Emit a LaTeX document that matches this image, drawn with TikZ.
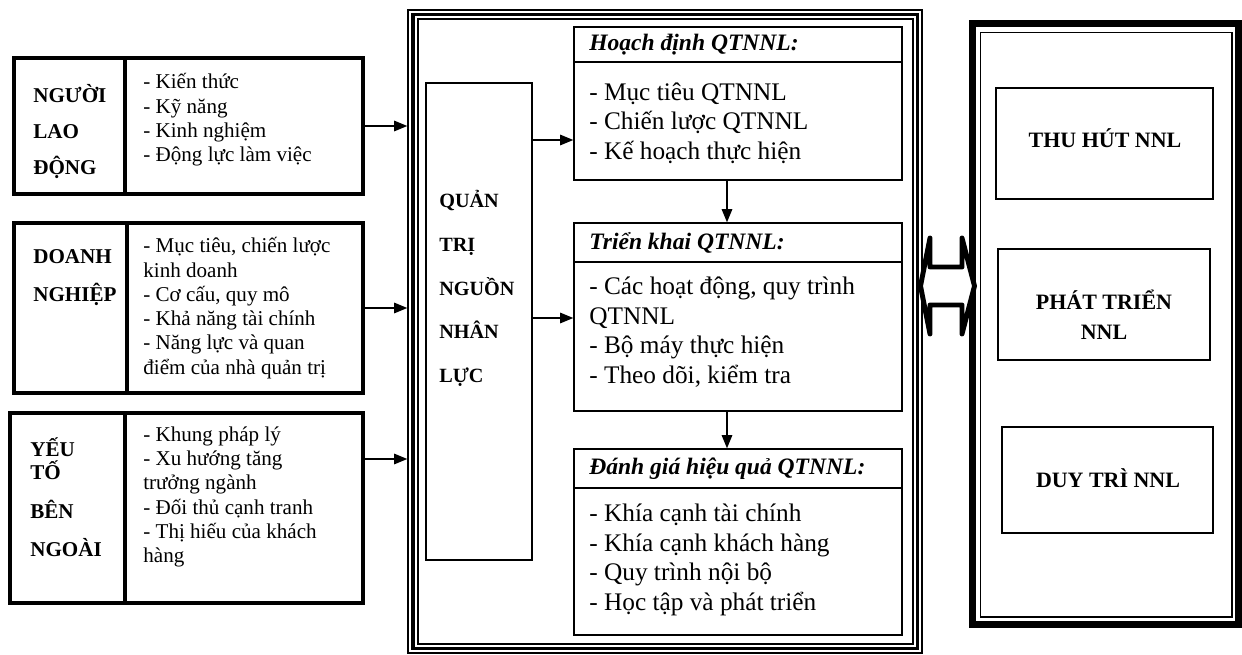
\documentclass[tikz,border=0pt]{standalone}
\usepackage{fontspec}
\setmainfont{Liberation Serif}
\usetikzlibrary{arrows.meta,fit}

\tikzset{
  factor/.style={draw, line width=2.3pt, inner sep=0pt},
  stage/.style={draw, line width=0.8pt, inner sep=0pt},
  goal/.style={draw, line width=0.9pt, inner sep=0pt},
  tag/.style={inner sep=0pt, anchor=west, align=left, font=\bfseries\fontsize{12}{20.7}\selectfont},
  item/.style={inner sep=0pt, anchor=west, align=left, font=\fontsize{12}{13.8}\selectfont},
  phase/.style={inner sep=0pt, anchor=west, font=\bfseries\itshape\fontsize{13.4}{16}\selectfont},
  point/.style={inner sep=0pt, anchor=west, align=left, font=\fontsize{14.4}{16.9}\selectfont},
  goaltext/.style={inner sep=0pt, align=center, font=\bfseries\fontsize{12.5}{17}\selectfont},
  link/.style={->, line width=0.8pt}
}

\begin{document}
\begin{tikzpicture}[x=0.02cm, y=-0.02cm, >={Triangle[length=7.5pt,width=6pt]}]
  \useasboundingbox (0,0) rectangle (1242,655);

  % Khung quan tri NNL (ba net)
  \node[stage, fit={(408,10) (922,653)}] (core) {};
  \draw[line width=2.2pt] (413,14.5) rectangle (917.5,648.5);
  \draw[line width=0.8pt] (418,19) rectangle (913,644);

  % Cac yeu to anh huong
  \node[factor, fit={(14,58) (363,194)}] (worker) {};
  \draw[line width=2.3pt] (125,58) -- (125,194);
  \node[tag] (worker-t) at (33,131.5) {NGƯỜI\\LAO\\ĐỘNG};
  \node[item] (worker-l) at (143,120) {- Kiến thức\\- Kỹ năng\\- Kinh nghiệm\\- Động lực làm việc};

  \node[factor, fit={(14,223) (363,393)}] (firm) {};
  \draw[line width=2.3pt] (127,223) -- (127,393);
  \node[tag, font=\bfseries\fontsize{12}{22}\selectfont] (firm-t) at (33,277.5) {DOANH\\NGHIỆP};
  \node[item] (firm-l) at (143,308) {- Mục tiêu, chiến lược\\kinh doanh\\- Cơ cấu, quy mô\\- Khả năng tài chính\\- Năng lực và quan\\điểm của nhà quản trị};

  \node[factor, fit={(10,413) (363,603)}] (outside) {};
  \draw[line width=2.3pt] (125,413) -- (125,603);
  \node[tag, font=\bfseries\fontsize{12}{13}\selectfont] (outside-t) at (30,497) {YẾU\\TỐ\\[9.5pt]BÊN\\[8.5pt]NGOÀI};
  \node[item] (outside-l) at (143,497) {- Khung pháp lý\\- Xu hướng tăng\\trưởng ngành\\- Đối thủ cạnh tranh\\- Thị hiếu của khách\\hàng};

  \draw[link] (worker.east) -- (worker.east -| core.west);
  \draw[link] (firm.east) -- (firm.east -| core.west);
  \draw[link] (outside.east |- 0,459) -- (core.west |- 0,459);

  % Quan tri nguon nhan luc
  \node[stage, line width=0.7pt, fit={(426,83) (532,560)}] (hrm) {};
  \node[tag, font=\bfseries\fontsize{11.5}{24.8}\selectfont] (hrm-t) at (439,288.5) {QUẢN\\TRỊ\\NGUỒN\\NHÂN\\LỰC};

  % Hoach dinh
  \node[stage, fit={(574,27) (902,180)}] (plan) {};
  \draw[line width=0.8pt] (574,62) -- (902,62);
  \node[phase] (plan-t) at (589,45) {Hoạch định QTNNL:};
  \node[point] (plan-l) at (589,123) {- Mục tiêu QTNNL\\- Chiến lược QTNNL\\- Kế hoạch thực hiện};

  % Trien khai
  \node[stage, fit={(574,223) (902,411)}] (run) {};
  \draw[line width=0.8pt] (574,262) -- (902,262);
  \node[phase] (run-t) at (589,243) {Triển khai QTNNL:};
  \node[point] (run-l) at (589,332) {- Các hoạt động, quy trình\\QTNNL\\- Bộ máy thực hiện\\- Theo dõi, kiểm tra};

  % Danh gia
  \node[stage, fit={(574,449) (902,635)}] (eval) {};
  \draw[line width=0.8pt] (574,488) -- (902,488);
  \node[phase] (eval-t) at (589,469) {Đánh giá hiệu quả QTNNL:};
  \node[point] (eval-l) at (589,560) {- Khía cạnh tài chính\\- Khía cạnh khách hàng\\- Quy trình nội bộ\\- Học tập và phát triển};

  \draw[link] (hrm.east |- 0,140) -- (plan.west |- 0,140);
  \draw[link] (hrm.east |- 0,318) -- (run.west |- 0,318);
  \draw[link] (plan.south -| 727,0) -- (run.north -| 727,0);
  \draw[link] (run.south -| 727,0) -- (eval.north -| 727,0);

  % Muc tieu NNL
  \node[draw, line width=4pt, inner sep=0pt, fit={(972.5,23.5) (1238.5,624.5)}] (aims) {};
  \draw[line width=0.9pt] (980.5,32.5) rectangle (1232,617);
  \node[goal, fit={(996,88) (1213,199)}] (attract) {};
  \node[goal, fit={(998,249) (1210,360)}] (develop) {};
  \node[goal, fit={(1002,427) (1213,533)}] (retain) {};
  \node[goaltext] (attract-t) at (1105,138) {THU HÚT NNL};
  \node[goaltext] (develop-t) at (1104,315) {PHÁT TRIỂN\\NNL};
  \node[goaltext] (retain-t) at (1108,478) {DUY TRÌ NNL};

  % Mui ten hai chieu
  \draw[line width=2.8pt, line join=round, fill=white] (920.5,286) -- (930,238) -- (930,267) -- (962,267) -- (962,238) -- (974.5,286) -- (962,334) -- (962,305) -- (930,305) -- (930,334) -- cycle;
\end{tikzpicture}
\end{document}
